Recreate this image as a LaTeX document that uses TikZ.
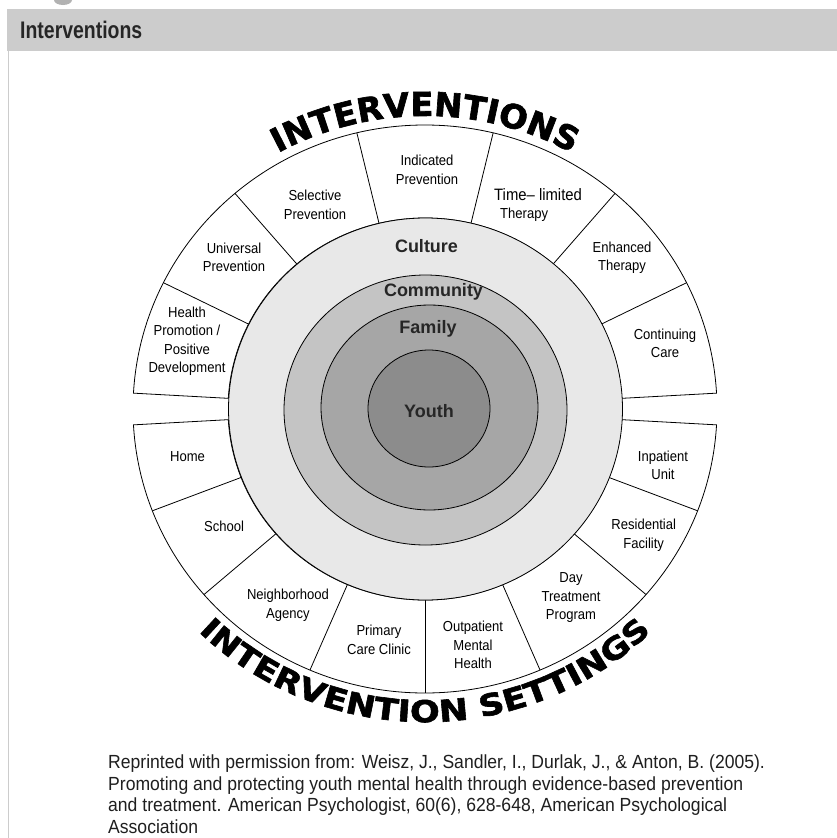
\documentclass[tikz,border=0pt]{standalone}
\usepackage{fontspec}
\setmainfont{Liberation Sans}
\newfontfamily\lblfont[FakeStretch=0.9]{Liberation Sans}
\newfontfamily\nrwfont[FakeStretch=0.925]{Liberation Sans}
\newfontfamily\hdrfont[FakeStretch=0.81]{Liberation Sans Bold}
\newfontfamily\arcfam[FakeStretch=1.02,FakeBold=2]{DejaVu Sans Bold}
\newfontfamily\arcfamwide[FakeStretch=1.17,FakeBold=2]{DejaVu Sans Bold}
\usetikzlibrary{decorations.text}
\definecolor{hdrgray}{HTML}{CCCCCC}
\definecolor{cultfill}{HTML}{E8E8E8}
\definecolor{commfill}{HTML}{C4C4C4}
\definecolor{famfill}{HTML}{A6A6A6}
\definecolor{youthfill}{HTML}{8C8C8C}
\newcommand\toparcfont{\arcfam\fontsize{33}{33}\selectfont}
\newcommand\botarcfont{\arcfamwide\fontsize{30}{30}\selectfont}
\begin{document}
\begin{tikzpicture}[x=1pt,y=1pt,
  lbl/.style={font=\lblfont\fontsize{14.5}{18.5}\selectfont, align=center, inner sep=0pt, text=black},
  core/.style={font=\bfseries\fontsize{18}{20}\selectfont, inner sep=0pt, text=black!85},
  ring/.style={draw=black, line width=0.8pt},
  band/.style={draw=black, line width=0.8pt, fill=white},
  divider/.style={draw=black, line width=0.8pt}]
\useasboundingbox (0,0) rectangle (836,-838);
\fill[white] (0,0) rectangle (836,-838);
% header
\fill[gray!60] (63,0) ellipse[x radius=9, y radius=5];
\draw[draw=black!20, fill=hdrgray] (7,-9) rectangle (840,-50);
\draw[black!20] (8.5,-50) -- (8.5,-840);
\node[anchor=west, inner sep=0pt, font=\hdrfont\fontsize{24}{24}\selectfont, text=black!85] (hdr) at (20,-30) {Interventions};

\begin{scope}[shift={(425,-409)}]
  % upper band
  \draw[band] (176.8:292 and 284) arc[start angle=176.8, end angle=3.2, x radius=292, y radius=284]
     -- (3.2:197 and 191) arc[start angle=3.2, end angle=176.8, x radius=197, y radius=191] -- cycle;
  % lower band
  \draw[band] (183.2:292 and 284) arc[start angle=183.2, end angle=356.8, x radius=292, y radius=284]
     -- (356.8:197 and 191) arc[start angle=356.8, end angle=183.2, x radius=197, y radius=191] -- cycle;
  \foreach \a in {26.4,49.4,76.5,103.5,130.6,153.6,201,220.8,246.8,270,293.2,319.2,339}
    \draw[divider] (\a:197 and 191) -- (\a:292 and 284);
  % concentric circles
  \draw[ring, fill=cultfill] (0.5,0) ellipse[x radius=197, y radius=191];
  \draw[ring, fill=commfill] (0.5,-1) ellipse[x radius=141.5, y radius=135];
  \draw[ring, fill=famfill] (4.5,1.5) ellipse[x radius=108.5, y radius=102.5];
  \draw[ring, fill=youthfill] (4,0.5) ellipse[x radius=61, y radius=58.5];
  % arc titles
  \path[decorate, decoration={text along path, text align=center,
      text={|\toparcfont|INTERVENTIONS}}]
    (150:302 and 293) arc[start angle=150, end angle=30, x radius=302, y radius=293];
  \path[decorate, decoration={text along path, text align=center,
      text={|\botarcfont|INTERVENTION SETTINGS}}]
    (200:322 and 313) arc[start angle=200, end angle=340, x radius=322, y radius=313];
\end{scope}

% core labels
\node[core] (culture) at (426.5,-246) {Culture};
\node[core] (community) at (433.5,-292) {Community};
\node[core] (family) at (428,-329) {Family};
\node[core] (youth) at (429,-411) {Youth};

% intervention labels
\node[lbl] (health) at (187,-341) {Health\\Promotion /\\Positive\\Development};
\node[lbl] (universal) at (234,-257.5) {Universal\\Prevention};
\node[lbl] (selective) at (315,-205) {Selective\\Prevention};
\node[lbl] (indicated) at (427,-170) {Indicated\\Prevention};
\node[lbl, align=left, anchor=north west] (timelim) at (494,-188) {{\fontsize{16.5}{18}\selectfont Time– limited}\\\hspace*{6pt}Therapy};
\node[lbl] (enhanced) at (622,-257.5) {Enhanced\\Therapy};
\node[lbl] (continuing) at (665,-343.5) {Continuing\\Care};

% setting labels
\node[lbl] (home) at (187.5,-456.7) {Home};
\node[lbl] (school) at (224,-526) {School};
\node[lbl] (neighborhood) at (288,-605) {Neighborhood\\Agency};
\node[lbl] (primary) at (379,-640) {Primary\\Care Clinic};
\node[lbl] (outpatient) at (473,-645) {Outpatient\\Mental\\Health};
\node[lbl] (daytreat) at (571,-598) {Day\\Treatment\\Program};
\node[lbl] (residential) at (643.7,-535) {Residential\\Facility};
\node[lbl] (inpatient) at (663,-465.5) {Inpatient\\Unit};

% citation
\node[anchor=north west, inner sep=0pt, align=left, font=\nrwfont\fontsize{19}{21.5}\selectfont, text=black!88] (cite) at (108,-755)
  {Reprinted with permission from: Weisz, J., Sandler, I., Durlak, J., \& Anton, B. (2005).\\
   Promoting and protecting youth mental health through evidence-based prevention\\
   and treatment. American Psychologist, 60(6), 628-648, American Psychological\\
   Association};
\end{tikzpicture}
\end{document}
